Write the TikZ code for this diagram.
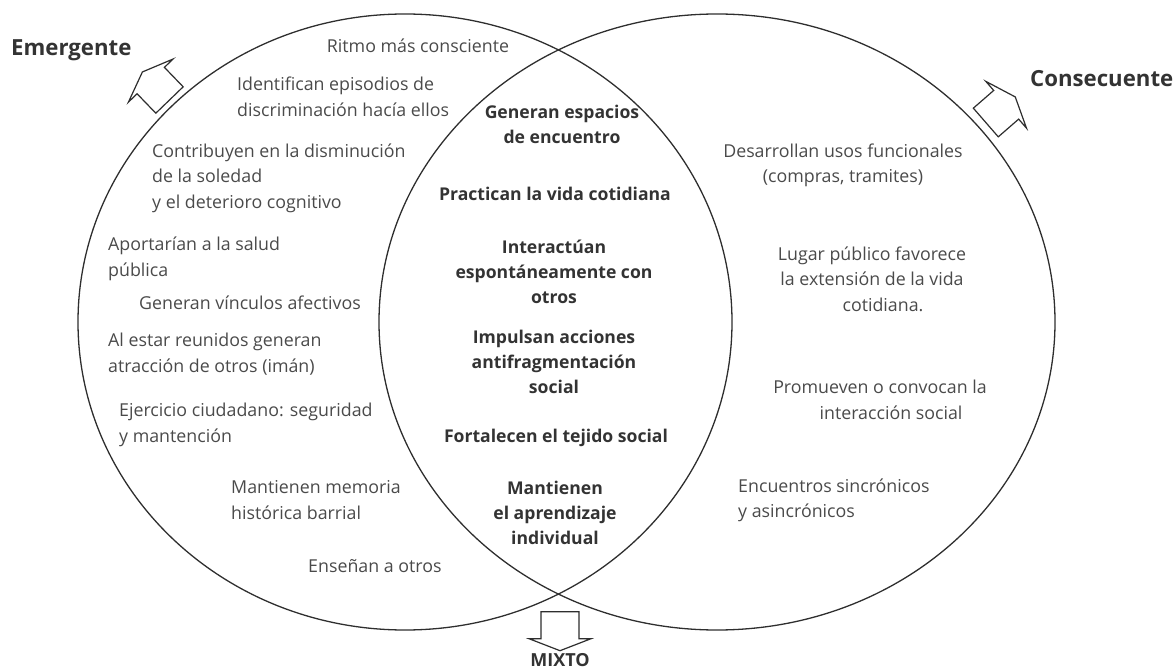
\documentclass[tikz,border=0pt]{standalone}
\usepackage{fontspec}
\setmainfont{Open Sans}
\definecolor{txt}{HTML}{4A4A4A}
\definecolor{boldtxt}{HTML}{333333}
\definecolor{ink}{HTML}{2E2E2E}
\begin{document}
\begin{tikzpicture}[x=1pt,y=-1pt,
  ring/.style={draw=ink,line width=1.3pt},
  arrowline/.style={draw=ink,line width=1.2pt,line join=miter,fill=white},
  item/.style={inner sep=0pt,text=txt,font=\fontsize{17.8}{25.5}\selectfont},
  leftitem/.style={item,anchor=west,align=left},
  centeritem/.style={item,align=center},
  core/.style={inner sep=0pt,text=boldtxt,align=center,font=\fontsize{17.6}{25}\selectfont\bfseries},
  title/.style={inner sep=0pt,text=boldtxt,font=\fontsize{22.2}{24}\selectfont\bfseries},
  blockarrow/.pic={\path[arrowline] (0,-19) -- (27,-19) -- (27,-31) -- (39,0) -- (27,31) -- (27,19) -- (0,19) -- cycle;}
]
\useasboundingbox (0,0) rectangle (1176,671);

% the two overlapping sets
\draw[ring] (405,322) ellipse [x radius=327, y radius=308];
\draw[ring] (717,322) ellipse [x radius=338, y radius=308];

% direction arrows
\pic[rotate=134] at (169.5,100) {blockarrow};
\pic[rotate=41] at (985.8,122.5) {blockarrow};
\pic[rotate=-90] at (560,611.7) {blockarrow};

% set titles
\node[title,anchor=west] (emergente) at (11,50) {Emergente};
\node[title,anchor=west] (consecuente) at (1030,79) {Consecuente};
\node[title,font=\fontsize{18}{20}\selectfont\bfseries] (mixto) at (560,660) {MIXTO};

% emergent set
\node[centeritem] (ritmo) at (418,46) {Ritmo más consciente};
\node[leftitem] (identifican) at (237,97) {Identifican episodios de\\discriminación hacía ellos};
\node[leftitem] (contribuyen) at (152,178) {Contribuyen en la disminución\\de la soledad\\ y el deterioro cognitivo};
\node[leftitem] (aportarian) at (108,259) {Aportarían a la salud\\pública};
\node[leftitem] (vinculos) at (139,303) {Generan vínculos afectivos};
\node[leftitem] (reunidos) at (108,354) {Al estar reunidos generan\\atracción de otros (imán)};
\node[leftitem] (ejercicio) at (119,425) {Ejercicio ciudadano: seguridad\\y mantención};
\node[leftitem] (memoria) at (231,500) {Mantienen memoria\\histórica barrial};
\node[leftitem] (ensenan) at (308,566) {Enseñan a otros};

% shared part
\node[core] (espacios) at (562,124.5) {Generan espacios\\de encuentro};
\node[core] (practican) at (555,194) {Practican la vida cotidiana};
\node[core] (interactuan) at (554,272) {Interactúan\\espontáneamente con\\otros};
\node[core] (impulsan) at (554,361.5) {Impulsan acciones\\antifragmentación\\social};
\node[core] (fortalecen) at (556,438) {Fortalecen el tejido social};
\node[core] (aprendizaje) at (555,513) {Mantienen\\el aprendizaje\\individual};

% consequent set
\node[centeritem] (usos) at (843,165.5) {Desarrollan usos funcionales\\(compras, tramites)};
\node[centeritem] (lugar) at (872,279) {Lugar público favorece\\la extensión de la vida\\\hspace*{22pt}cotidiana.};
\node[centeritem] (promueven) at (880,400) {Promueven o convocan la\\\hspace*{22pt}interacción social};
\node[leftitem] (encuentros) at (738,500.5) {Encuentros sincrónicos\\y asincrónicos};
\end{tikzpicture}
\end{document}
